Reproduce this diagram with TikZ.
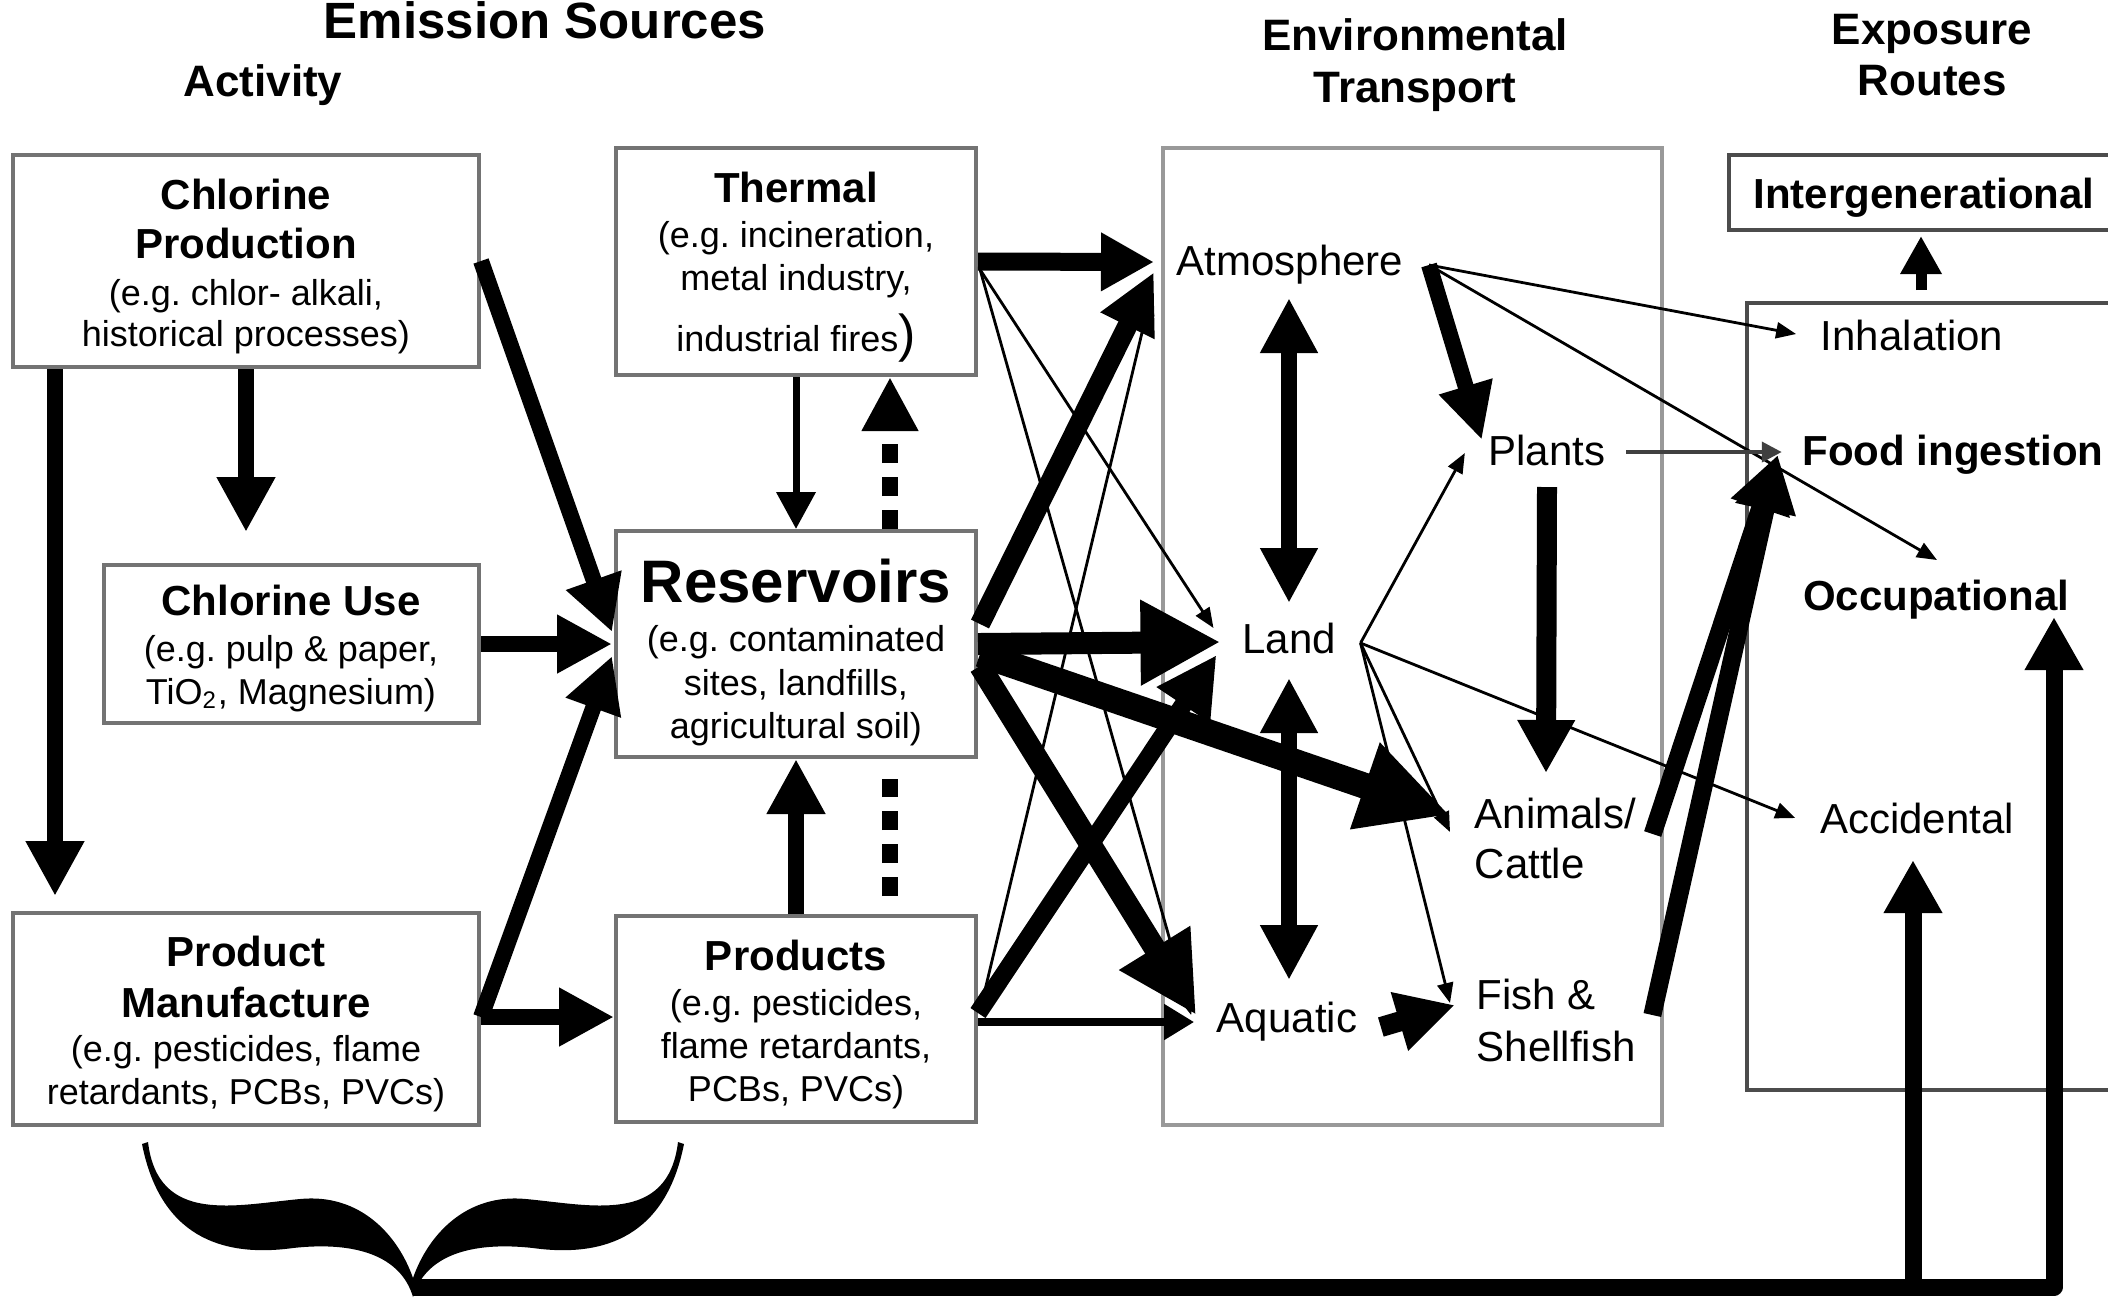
\documentclass[tikz,border=0pt]{standalone}
\usepackage{fontspec}
\setmainfont{Liberation Sans}
\usetikzlibrary{arrows.meta,calc,fit}
\newcommand\boxhead[1]{{\fontsize{10.5}{12.5}\selectfont\bfseries #1}}

\begin{document}
\frenchspacing
\begin{tikzpicture}[x=0.25pt,y=-0.25pt,
  box/.style={draw=black!55,line width=1pt,inner sep=0pt},
  darkbox/.style={draw=black!70,line width=1pt,inner sep=0pt},
  lightbox/.style={draw=black!40,line width=0.9pt,inner sep=0pt},
  btxt/.style={inner sep=0pt,align=center,anchor=north,font=\fontsize{9}{10.75}\selectfont},
  lbl/.style={inner sep=0pt,font=\fontsize{10.5}{12.5}\selectfont},
  blbl/.style={inner sep=0pt,font=\fontsize{10.5}{12.5}\selectfont\bfseries},
  ttl/.style={inner sep=0pt,align=center,font=\fontsize{11}{12.9}\selectfont\bfseries},
  flow/.style n args={3}{line width=#1,-{Triangle[width=#2,length=#3]}},
  dflow/.style n args={3}{line width=#1,{Triangle[width=#2,length=#3]}-{Triangle[width=#2,length=#3]}},
  fat/.style={flow={4pt}{13.75pt}{13.75pt}},
  midarr/.style={flow={1.75pt}{9.5pt}{9.25pt}},
  hair/.style={flow={0.7pt}{4pt}{5pt}},
  dasharr/.style={flow={4pt}{13.25pt}{13.5pt},dash pattern=on 4.75pt off 3.5pt},
  dashline/.style={line width=4pt,dash pattern=on 4.75pt off 3.5pt}
]
\path[use as bounding box] (0,0) rectangle (2108,1299);
\clip (0,0) rectangle (2108,1299);

% ---------- column titles ----------
\node[ttl,font=\fontsize{12.75}{14}\selectfont\bfseries,anchor=base] (emis) at (545,38) {Emission Sources};
\node[ttl,anchor=base] (activity) at (263,96) {Activity};
\node[ttl,anchor=north] (envtitle) at (1415,18) {Environmental\\Transport};
\node[ttl,anchor=north] (exptitle) at (1932,13) {Exposure\\Routes};

% ---------- boxes ----------
\node[box,fit={(13,155) (479,367)}] (cprod) {};
\node[box,fit={(104,565) (479,723)}] (cuse) {};
\node[box,fit={(13,913) (479,1125)}] (pmanu) {};
\node[box,fit={(616,148) (976,375)}] (thermal) {};
\node[box,fit={(616,531) (976,757)}] (res) {};
\node[box,fit={(616,916) (976,1122)}] (prods) {};
\node[lightbox,fit={(1163,148) (1662,1125)}] (envbox) {};
\node[darkbox,fit={(1729,155) (2140,230)}] (intergenbox) {};
\node[darkbox,fit={(1747,303) (2140,1090)}] (expbox) {};

% ---------- box texts ----------
\node[btxt] (cprodtxt) at (246,178) {\boxhead{Chlorine}\\[1.5pt]\boxhead{Production}\\[1pt](e.g. chlor- alkali,\\[-0.5pt]historical processes)};
\node[btxt] (cusetxt) at (291,584) {\boxhead{Chlorine Use}\\[0.75pt](e.g. pulp \& paper,\\TiO\textsubscript{2}, Magnesium)};
\node[btxt] (pmanutxt) at (246,935) {\boxhead{Product}\\[2pt]\boxhead{Manufacture}\\[0.25pt](e.g. pesticides, flame\\retardants, PCBs, PVCs)};
\node[btxt] (thermaltxt) at (796,171) {\boxhead{Thermal}\\[0.5pt](e.g. incineration,\\metal industry,\\[3pt]industrial fires{\fontsize{13}{13}\selectfont)}};
\node[btxt] (restxt) at (796,558) {{\fontsize{15}{17}\selectfont\bfseries Reservoirs}\\[1.5pt](e.g. contaminated\\[0.25pt]sites, landfills,\\agricultural soil)};
\node[btxt] (prodstxt) at (796,939) {\boxhead{Products}\\[0.5pt](e.g. pesticides,\\flame retardants,\\PCBs, PVCs)};

% ---------- transport compartments ----------
\node[lbl,anchor=base] (atm) at (1290,275) {Atmosphere};
\node[lbl,anchor=base] (land) at (1289,653) {Land};
\node[lbl,anchor=base] (aquatic) at (1287,1032) {Aquatic};
\node[lbl,anchor=base] (plants) at (1547,465) {Plants};
\node[lbl,align=left,anchor=north west] (animals) at (1474,797) {Animals/\\Cattle};
\node[lbl,align=left,anchor=north west,font=\fontsize{10.5}{13}\selectfont] (fish) at (1476,978) {Fish \&\\Shellfish};

% ---------- exposure routes ----------
\node[blbl,anchor=base] (intergen) at (1924,208) {Intergenerational};
\node[lbl,anchor=base] (inhal) at (1912,350) {Inhalation};
\node[blbl,anchor=base] (food) at (1953,465) {Food ingestion};
\node[blbl,anchor=base] (occ) at (1936,610) {Occupational};
\node[lbl,anchor=base] (acc) at (1917,833) {Accidental};

% ---------- activity -> emission sources ----------
\draw[fat] ($(cprod.south west)+(44,0)$) -- ($(pmanu.north west)+(44,-15)$);
\draw[fat] (cprod.south) -- ($(cuse.north -| cprod.south)+(0,-31)$);
\draw[fat] (cprod.east) -- ($(res.west)+(-2,-12)$);
\draw[fat] (cuse.east) -- ($(res.west)+(-2,0)$);
\coordinate (pmR) at ($(pmanu.east)+(0,-2)$);
\draw[fat] (pmR) -- ($(res.west)+(-2,12)$);
\draw[fat] (pmR) -- (pmR -| prods.west);

% ---------- exchanges between sources ----------
\draw[midarr] (thermal.south) -- (res.north);
\draw[dasharr] ($(res.north)+(94,0)$) -- ($(thermal.south)+(94,0)$);
\draw[fat] (prods.north) -- (res.south);
\draw[dashline] ($(prods.north)+(94,-18)$) -- ($(res.south)+(94,20)$);

% ---------- sources -> environmental compartments ----------
\draw[flow={4.5pt}{13.75pt}{13.25pt}] (thermal.east) -- ($(atm.base west)+(-22,-13)$);
\coordinate (thR) at ($(thermal.east)+(2,8)$);
\draw[hair] (thR) -- ($(land.base west)+(-28,-25)$);
\draw[hair] (thR) -- ($(aquatic.base west)+(-25,-17)$);
\draw[flow={5pt}{14pt}{15pt}] ($(res.east)+(2,-20)$) -- ($(atm.base west)+(-22,-3)$);
\draw[flow={5.5pt}{20pt}{20pt}] (res.east) -- ($(land.base west)+(-21,-11)$);
\draw[flow={6.5pt}{21.25pt}{22.5pt}] ($(res.east)+(2,10)$) -- ($(animals.north west)+(-24,18)$);
\draw[flow={5.5pt}{19.5pt}{19.75pt}] ($(res.east)+(2,22)$) -- ($(aquatic.base west)+(-20,-17)$);
\draw[flow={4.5pt}{15pt}{15pt}] ($(prods.east)+(0,-6)$) -- ($(land.base west)+(-25,2)$);
\draw[flow={2pt}{8.5pt}{7.5pt}] ($(prods.east)+(0,3)$) -- ($(aquatic.base west)+(-22,-10)$);
\draw[hair] ($(prods.east)+(2,-8)$) -- ($(atm.base west)+(-25,20)$);

% ---------- transport within the environment ----------
\coordinate (atmR) at ($(atm.base east)+(25,-10)$);
\coordinate (landR) at ($(land.base east)+(24,-10)$);
\draw[flow={4pt}{13pt}{14pt}] (atmR) -- ($(plants.base west)+(-6,-25)$);
\draw[hair] (atmR) -- ($(inhal.base west)+(-24,-16)$);
\draw[hair] (atmR) -- ($(occ.base)+(1,-50)$);
\draw[dflow={4pt}{13.5pt}{13.75pt}] ($(atm.base)+(-1,23)$) -- ($(land.base)+(0,-50)$);
\draw[dflow={4pt}{13.5pt}{13.75pt}] ($(land.base)+(0,25)$) -- ($(aquatic.base)+(2,-52)$);
\draw[hair] (landR) -- ($(plants.base west)+(-23,-12)$);
\draw[hair] (landR) -- ($(animals.north west)+(-24,35)$);
\draw[hair] (landR) -- ($(fish.north west)+(-26,25)$);
\draw[hair] (landR) -- ($(acc.base west)+(-24,-15)$);
\draw[flow={5pt}{14.25pt}{14.5pt}] ($(aquatic.base east)+(23,-5)$) -- ($(fish.north west)+(-21,27)$);
\draw[flow={5pt}{13.5pt}{13.25pt}] ($(plants.base)+(0,22)$) -- ($(animals.north west)+(72,-24)$);

% ---------- environment -> exposure ----------
\draw[flow={1pt}{5pt}{5pt},draw=black!75] ($(plants.base east)+(20,-13)$) -- ($(food.base west)+(-20,-13)$);
\draw[flow={4.5pt}{14.5pt}{14pt}] ($(animals.north east)+(16,37)$) -- ($(food.base west)+(-24,-10)$);
\draw[flow={4.5pt}{14.5pt}{14pt}] ($(fish.north east)+(16,37)$) -- ($(food.base west)+(-24,-10)$);
\draw[flow={2.75pt}{9.75pt}{9.5pt}] ($(expbox.north west)+(176,-11)$) -- ($(intergenbox.south west)+(194,4)$);

% ---------- brace gathering the emission sources ----------
\fill (148,1142) .. controls (158,1225) and (235,1205) .. (300,1199)
  .. controls (360,1193) and (398,1235) .. (413,1278)
  .. controls (428,1235) and (466,1193) .. (526,1199)
  .. controls (591,1205) and (668,1225) .. (678,1142)
  -- (684,1144) .. controls (666,1235) and (606,1258) .. (533,1248)
  .. controls (470,1241) and (425,1256) .. (413,1297)
  .. controls (401,1256) and (356,1241) .. (293,1248)
  .. controls (220,1258) and (160,1235) .. (142,1144) -- cycle;
\coordinate (cusp) at (413,1287);
\coordinate (occtip) at ($(occ.base)+(118,7)$);
\coordinate (acctip) at ($(acc.base)+(-4,27)$);
\draw[flow={4.25pt}{13.75pt}{13.25pt},line join=round] (cusp) -- (cusp -| occtip) -- (occtip);
\draw[flow={4.25pt}{13.75pt}{13.25pt}] (acctip |- cusp) -- (acctip);
\end{tikzpicture}
\end{document}
